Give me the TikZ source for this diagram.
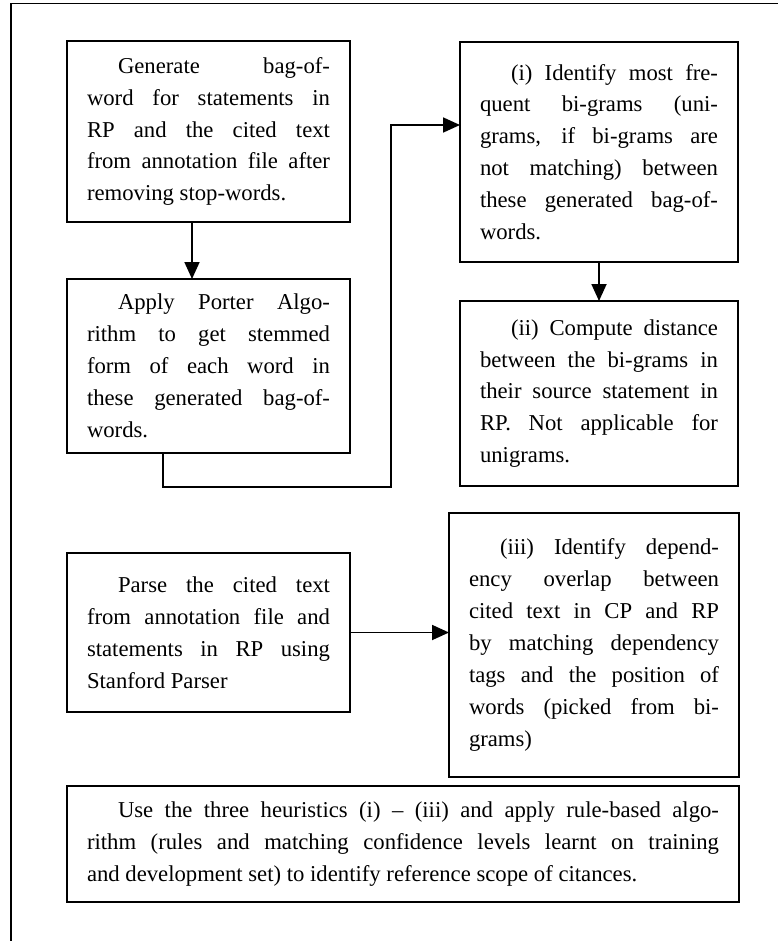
\documentclass[tikz,border=0pt]{standalone}
\usepackage{fontspec}
\setmainfont{Liberation Serif}
\usetikzlibrary{arrows.meta}
\newcommand\jline[1]{\hbox to\hsize{#1}}
\newcommand\lline[1]{\hbox{#1}}
\newcommand\ind{\hskip31pt}
\newcommand\boxtext[2]{\vbox{\hsize=#1\relax\fontsize{22.7}{31.9}\selectfont #2}}
\tikzset{
  box/.style={draw, line width=1.8pt, inner xsep=20pt, inner ysep=0pt, outer sep=0pt,
    anchor=north west},
  arr/.style={line width=1.8pt, -{Triangle[length=17pt,width=15pt]}},
  frame/.style={line width=1.6pt}
}
\begin{document}
\begin{tikzpicture}[x=1pt,y=-1pt]
\useasboundingbox (0,0) rectangle (778,941);
\coordinate (f1) at (11,941);
\coordinate (f2) at (11,3.5);
\coordinate (f3) at (778,3.5);
\draw[frame] (f1) -- (f2) -- (f3);

\node[box, minimum width=283pt, minimum height=181pt] (b1) at (67,41) {\boxtext{243pt}{%
\jline{\ind Generate bag-of-}%
\jline{word for statements in}%
\jline{RP and the cited text}%
\jline{from annotation file after}%
\lline{removing stop-words.}}};

\node[box, minimum width=283pt, minimum height=174pt] (b2) at (67,279) {\boxtext{243pt}{%
\jline{\ind Apply Porter Algo-}%
\jline{rithm to get stemmed}%
\jline{form of each word in}%
\jline{these generated bag-of-}%
\lline{words.}}};

\node[box, minimum width=278pt, minimum height=220pt] (b3) at (460,42) {\boxtext{238pt}{%
\jline{\ind (i) Identify most fre-}%
\jline{quent bi-grams (uni-}%
\jline{grams, if bi-grams are}%
\jline{not matching) between}%
\jline{these generated bag-of-}%
\lline{words.}}};

\node[box, minimum width=278pt, minimum height=185pt] (b4) at (460,301) {\boxtext{238pt}{%
\jline{\ind (ii) Compute distance}%
\jline{between the bi-grams in}%
\jline{their source statement in}%
\jline{RP. Not applicable for}%
\lline{unigrams.}}};

\node[box, minimum width=283pt, minimum height=159pt] (b5) at (67,553) {\boxtext{243pt}{%
\jline{\ind Parse the cited text}%
\jline{from annotation file and}%
\jline{statements in RP using}%
\lline{Stanford Parser}}};

\node[box, minimum width=290pt, minimum height=264pt] (b6) at (449,513) {\boxtext{250pt}{%
\jline{\ind (iii) Identify depend-}%
\jline{ency overlap between}%
\jline{cited text in CP and RP}%
\jline{by matching dependency}%
\jline{tags and the position of}%
\jline{words (picked from bi-}%
\lline{grams)}}};

\node[box, minimum width=672pt, minimum height=116pt] (b7) at (67,786) {\boxtext{632pt}{%
\jline{\ind Use the three heuristics (i) – (iii) and apply rule-based algo-}%
\jline{rithm (rules and matching confidence levels learnt on training}%
\lline{and development set) to identify reference scope of citances.}}};

\coordinate (a1) at (192,0);
\draw[arr] (b1.south -| a1) -- (b2.north -| a1);
\coordinate (c1) at (163,487);
\coordinate (c2) at (391,487);
\coordinate (c3) at (391,125);
\draw[arr] (b2.south -| c1) -- (c1) -- (c2) -- (c3) -- (c3 -| b3.west);
\draw[arr] (b3.south) -- (b4.north);
\draw[arr] (b5.east) -- (b5.east -| b6.west);
\end{tikzpicture}
\end{document}
